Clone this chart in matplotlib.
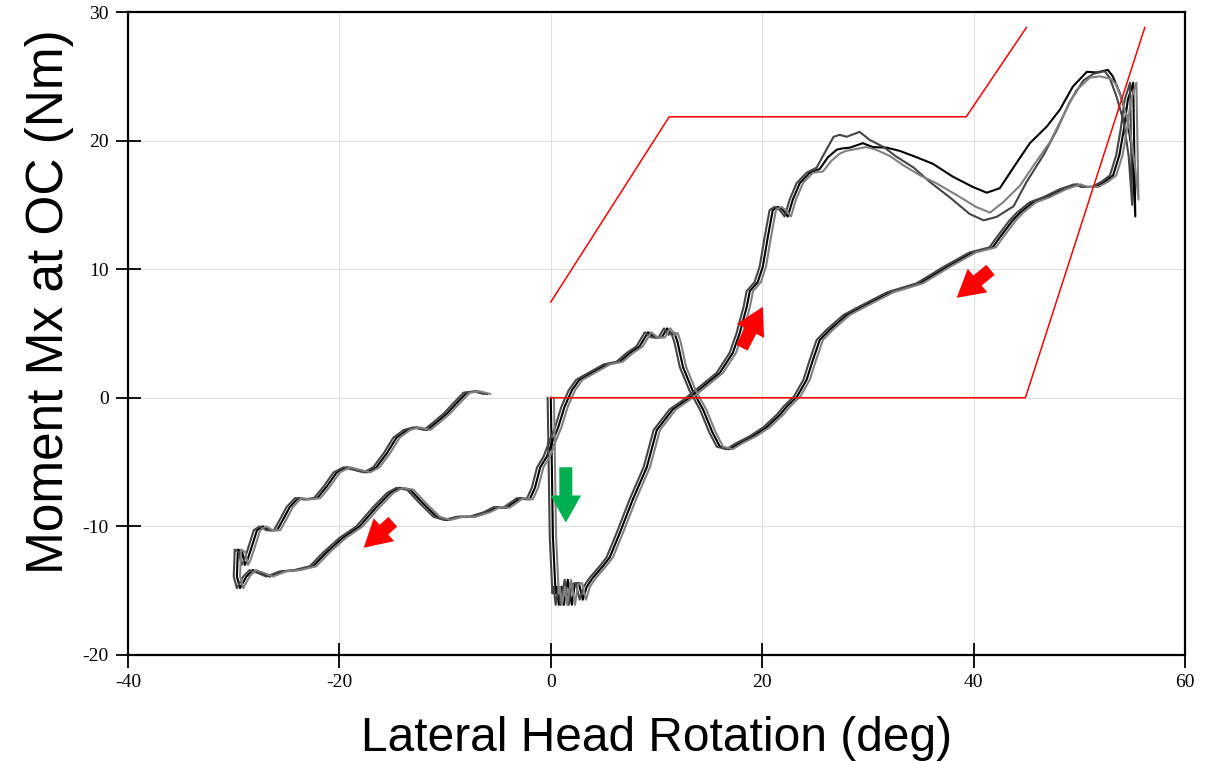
import matplotlib.pyplot as plt
from matplotlib.patches import FancyArrowPatch
import numpy as np

plt.rcParams['axes.unicode_minus'] = False

# rising branch (shared by the three trials)
rise_x = [0.0, 0.2, 0.45, 0.57, 0.76, 1.04, 1.23, 1.61, 1.99, 2.27, 2.65, 3.03, 3.4, 3.97,
          4.92, 5.58, 6.53, 7.76, 9.08, 10.03, 11.54, 12.87, 14.38, 15.99, 17.22, 17.88,
          18.54, 18.83, 19.58, 20.06, 20.53, 21.0, 21.48, 21.95, 22.42, 22.89, 23.56, 24.5]
rise_y = [0.0, -10.8, -15.2, -14.7, -16.1, -14.7, -16.1, -14.15, -16.1, -14.5, -14.4, -15.7,
          -14.7, -14.0, -13.1, -12.4, -10.5, -7.9, -5.4, -2.5, -0.9, -0.15, 0.86, 1.94, 3.5,
          5.05, 7.08, 8.3, 9.0, 10.2, 12.5, 14.6, 14.85, 14.6, 14.1, 15.4, 16.7, 17.5]

# upper branch, one curve per trial
top_x = [25.45, 26.21, 27.06, 27.63, 28.29, 29.52, 30.46, 31.79, 33.02, 34.63, 36.14, 38.03,
         39.92, 41.25, 42.48, 44.09, 45.32, 46.93, 48.16, 49.39, 50.71, 51.66, 52.7, 53.17,
         53.83, 54.49, 54.97, 55.3]
top_y_black = [17.8, 18.7, 19.3, 19.4, 19.45, 19.8, 19.5, 19.45, 19.2, 18.7, 18.2, 17.2, 16.4,
               15.95, 16.3, 18.3, 19.8, 21.1, 22.4, 24.2, 25.35, 25.3, 25.5, 25.0, 23.7, 21.9,
               19.3, 14.1]
top_y_dark = [17.9, 19.05, 20.3, 20.45, 20.3, 20.68, 20.06, 19.5, 18.74, 17.9, 16.8, 15.6, 14.3,
              13.8, 14.07, 14.9, 16.8, 18.9, 20.8, 23.0, 24.7, 25.2, 25.4, 24.9, 23.4, 21.5,
              18.8, 15.0]
top_y_gray = [17.6, 18.4, 19.0, 19.2, 19.3, 19.5, 19.3, 18.8, 18.1, 17.3, 16.7, 15.8, 14.85,
              14.4, 15.2, 16.5, 18.0, 19.9, 21.9, 23.9, 24.9, 25.0, 24.8, 24.4, 23.0, 20.8,
              18.0, 15.4]

# return branch from the spike back to the left loop (shared)
back_x = [55.1, 54.6, 54.2, 53.8, 53.2, 52.4, 51.5, 50.5, 49.8, 48.4, 46.9, 45.6, 44.4, 43.7,
          42.5, 41.8, 39.9, 37.5, 34.9, 32.1, 29.5, 28.0, 26.4, 25.45, 24.8, 24.2, 23.3, 22.3,
          21.7, 20.4, 19.1, 17.9, 16.9, 16.0, 15.3, 14.4, 13.4, 12.5, 12.0, 11.7, 11.45, 11.0,
          10.5, 9.8, 9.2, 8.4, 7.5, 6.5, 5.3, 4.0, 2.7, 2.0, 1.3, 0.7, 0.2, -0.4, -1.0, -1.5,
          -2.0, -2.9, -3.6, -4.2, -5.1, -6.05, -7.4, -8.6, -9.8, -10.8, -12.1, -13.3, -14.3,
          -15.2, -16.5, -18.1, -19.7, -21.2, -22.5, -24.0, -25.35, -26.6, -27.5, -28.2, -28.8,
          -29.4, -29.7, -29.6, -29.2, -28.95, -28.7, -28.3, -27.8, -27.25, -26.6, -25.9, -25.35,
          -24.7, -23.9, -23.1, -22.1, -21.2, -20.25, -19.3, -18.35, -17.4, -16.5, -15.5, -14.6,
          -13.6, -12.7, -11.7, -10.8, -9.8, -8.9, -7.95, -7.0, -6.05]
back_y = [24.5, 23.2, 20.8, 18.9, 17.3, 16.8, 16.4, 16.4, 16.6, 16.2, 15.6, 15.2, 14.4, 13.8,
          12.5, 11.7, 11.3, 10.2, 8.9, 8.2, 7.1, 6.45, 5.3, 4.5, 2.95, 1.4, 0.1, -0.7, -1.3,
          -2.3, -3.0, -3.5, -4.0, -3.8, -2.7, -0.9, 0.6, 2.4, 4.3, 5.05, 4.9, 5.4, 4.7, 4.7,
          5.1, 4.0, 3.5, 2.8, 2.6, 2.0, 1.4, 0.6, -0.7, -2.3, -3.3, -4.6, -5.4, -7.0, -7.9,
          -7.8, -8.2, -8.55, -8.5, -8.9, -9.25, -9.25, -9.5, -9.25, -8.2, -7.15, -7.0, -7.4,
          -8.5, -10.0, -10.9, -12.0, -13.1, -13.4, -13.5, -13.9, -13.6, -13.4, -13.9, -14.8,
          -13.9, -11.8, -12.0, -13.0, -12.6, -11.6, -10.3, -10.0, -10.3, -10.3, -9.5, -8.5,
          -7.8, -7.9, -7.8, -6.9, -5.8, -5.4, -5.6, -5.8, -5.4, -4.3, -3.1, -2.5, -2.3, -2.5,
          -1.9, -1.2, -0.4, 0.4, 0.5, 0.3]

trial_colors = ['#000000', '#454545', '#808080']
trial_top_y = [top_y_black, top_y_dark, top_y_gray]
trial_offset_deg = [0.0, -0.3, 0.3]

# red corridor lines
corr_upper_x = [0, 11.2, 39.3, 45.0]
corr_upper_y = [7.45, 21.85, 21.85, 28.8]
corr_lower_x = [0, 44.9, 56.2]
corr_lower_y = [0, 0, 28.8]

# direction arrows (tail, head)
red_arrows = [((-14.95, -9.64), (-17.7, -11.66)),
              ((18.07, 3.9), (20.06, 7.08)),
              ((41.6, 9.95), (38.4, 7.78))]
green_arrow = ((1.42, -5.4), (1.42, -9.7))

fig = plt.figure(figsize=(12.18, 7.61), dpi=100)
ax = fig.add_axes([0.1051, 0.1393, 0.8678, 0.8449])

for col, ty, off in zip(trial_colors, trial_top_y, trial_offset_deg):
    xs = np.concatenate([rise_x, top_x, back_x]) + off
    ys = np.concatenate([rise_y, ty, back_y])
    ax.plot(xs, ys, color=col, lw=1.5, zorder=3)

ax.plot(corr_upper_x, corr_upper_y, color='red', lw=1.1, zorder=4)
ax.plot(corr_lower_x, corr_lower_y, color='red', lw=1.1, zorder=4)

style = 'simple,head_length=0.75,head_width=0.85,tail_width=0.36'
for tail, head in red_arrows:
    ax.add_patch(FancyArrowPatch(tail, head, arrowstyle=style, mutation_scale=26,
                                 color='red', lw=0, shrinkA=0, shrinkB=0, zorder=5))
ax.add_patch(FancyArrowPatch(green_arrow[0], green_arrow[1], arrowstyle=style,
                             mutation_scale=26, color='#00B050', lw=0,
                             shrinkA=0, shrinkB=0, zorder=5))

ax.set_xlim(-40, 60)
ax.set_ylim(-20, 30)
ax.set_xticks([-40, -20, 0, 20, 40, 60])
ax.set_yticks([-20, -10, 0, 10, 20, 30])
ax.grid(True, color='#e0e0e0', lw=0.8, zorder=0)
ax.set_axisbelow(True)
for s in ax.spines.values():
    s.set_linewidth(1.6)
ax.tick_params(direction='inout', length=18, width=1.3, pad=5, labelsize=14)
for lab in ax.get_xticklabels() + ax.get_yticklabels():
    lab.set_fontfamily('Liberation Serif')

ax.set_xlabel('Lateral Head Rotation (deg)', fontsize=34.5, family='Liberation Sans', labelpad=18)
ax.set_ylabel('Moment Mx at OC (Nm)', fontsize=37, family='Liberation Sans')
ax.yaxis.set_label_coords(-0.051, 0.55)

fig.savefig('out.png', dpi=100)
